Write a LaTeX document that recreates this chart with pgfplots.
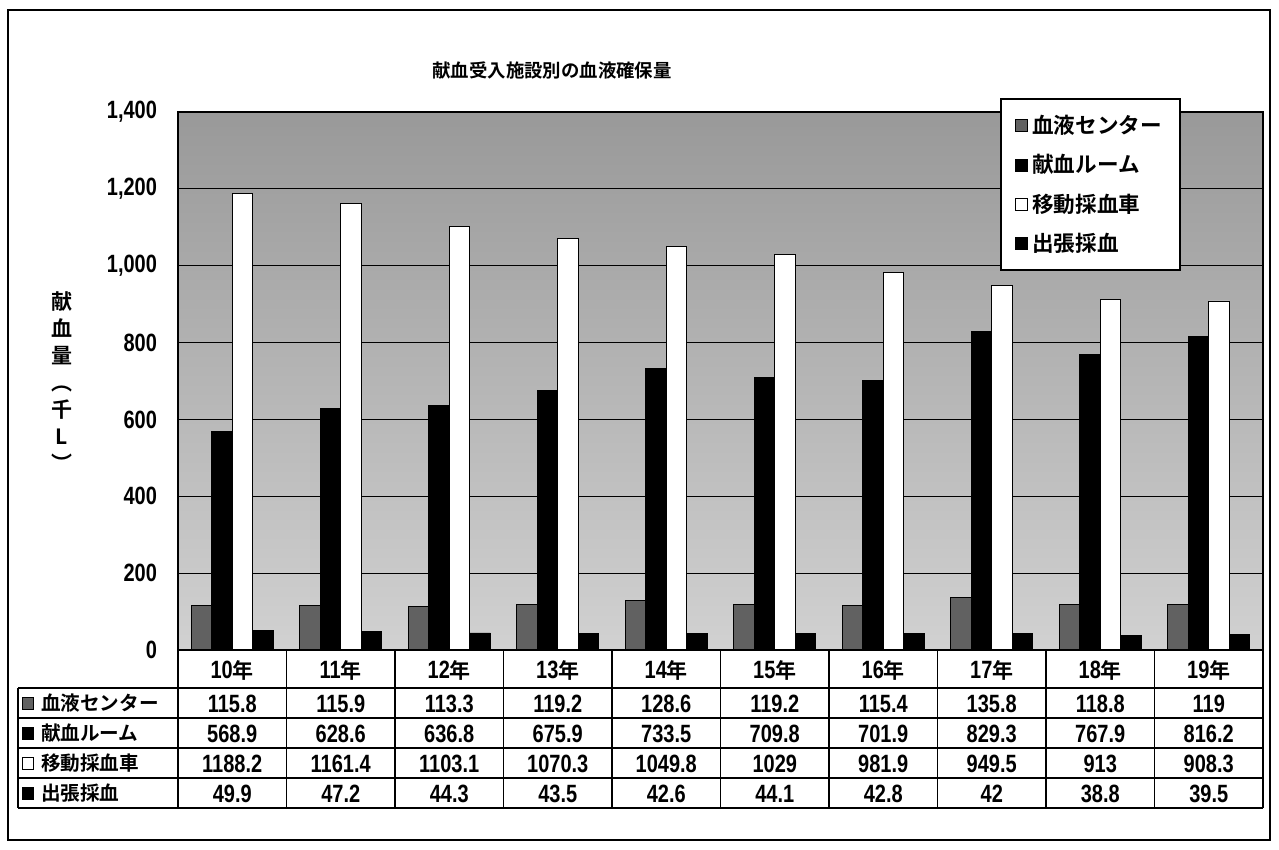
\documentclass[border=0pt]{standalone}
\usepackage{pgfplots}
\pgfplotsset{compat=1.18}
\usepackage{pgfplotstable}
\usepackage{fontspec}
\newfontfamily\jp{Noto Sans CJK JP Bold}
\newfontfamily\numf{Liberation Sans Bold}[FakeStretch=0.8]

% 献血受入施設別の血液確保量 (千L)
\pgfplotstableread{
yr  c     r     m      s
10  115.8 568.9 1188.2 49.9
11  115.9 628.6 1161.4 47.2
12  113.3 636.8 1103.1 44.3
13  119.2 675.9 1070.3 43.5
14  128.6 733.5 1049.8 42.6
15  119.2 709.8 1029   44.1
16  115.4 701.9 981.9  42.8
17  135.8 829.3 949.5  42
18  118.8 767.9 913    38.8
19  119   816.2 908.3  39.5
}\datatable

\tikzset{px/.style={x=0.5pt,y=-0.5pt,shift={(0pt,425pt)}}}
\pgfplotsset{sq legend/.style={legend image code/.code={\draw[##1] (0pt,-3pt) rectangle (6pt,3pt);}}}

\begin{document}
\begin{tikzpicture}
\begin{scope}[px]
  \useasboundingbox (0,0) rectangle (1279,850);
  \fill[white] (0,0) rectangle (1279,850);
  \draw[line width=1.2pt] (8,10) rectangle (1270,840);
\end{scope}

\begin{axis}[
    at={(89pt,100pt)}, anchor=south west,
    width=542.5pt, height=269pt, scale only axis,
    xmin=-0.5, xmax=9.5,
    ymin=0, ymax=1400,
    ytick={0,200,...,1400},
    xtick=\empty,
    ymajorgrids,
    grid style={black, line width=0.6pt},
    major tick length=0pt,
    yticklabel style={font=\numf\fontsize{12.5}{12.5}\selectfont, xshift=-7pt},
    /pgf/number format/.cd, 1000 sep={,}, assume math mode=true, /pgfplots/.cd,
    axis background/.style={top color=black!40, bottom color=black!18},
    axis line style={black, line width=1pt},
    ybar=0pt, bar width=10.25pt,
    legend cell align=left,
    legend style={at={(0.758,1.026)}, anchor=north west, draw=black,
        line width=1pt, fill=white,
        font=\jp\fontsize{10.8}{12.5}\selectfont,
        row sep=5pt, inner xsep=7pt, inner ysep=6pt},
  ]
  \addplot[fill=black!62, draw=black, line width=0.4pt, sq legend]
    table[x expr=\coordindex, y=c] {\datatable};
  \addplot[fill=black, draw=black, line width=0.4pt, sq legend]
    table[x expr=\coordindex, y=r] {\datatable};
  \addplot[fill=white, draw=black, line width=0.4pt, sq legend]
    table[x expr=\coordindex, y=m] {\datatable};
  \addplot[fill=black, draw=black, line width=0.4pt, sq legend]
    table[x expr=\coordindex, y=s] {\datatable};
  \legend{血液センター,献血ルーム,移動採血車,出張採血}
\end{axis}

\begin{scope}[px]
  % title and y label
  \node at (552,70) {\jp\fontsize{9.2}{10}\selectfont 献血受入施設別の血液確保量};
  \node[font=\jp\fontsize{10.5}{13.5}\selectfont, align=center] at (62,382)
    {献\\血\\量\\︵\\千\\L\\︶};

  % data table grid
  \draw[line width=0.8pt] (178,650) -- (1263,650);
  \foreach \yy in {688,718,748,778,808}
    \draw[line width=0.8pt] (18,\yy) -- (1263,\yy);
  \draw[line width=0.8pt] (18,688) -- (18,808);
  \foreach \k in {0,...,10}
    \draw[line width=0.8pt] ({178+108.5*\k},650) -- ({178+108.5*\k},808);

  % header row
  \foreach \k in {0,...,9} {
    \pgfplotstablegetelem{\k}{yr}\of\datatable
    \node at ({178+108.5*(\k+0.5)},670)
      {{\numf\fontsize{12.5}{12}\selectfont\pgfplotsretval}{\jp\fontsize{10.5}{12}\selectfont 年}};
  }

  % values
  \foreach \col/\yy in {c/704,r/734,m/764,s/794} {
    \foreach \k in {0,...,9} {
      \pgfplotstablegetelem{\k}{\col}\of\datatable
      \node at ({178+108.5*(\k+0.5)},\yy)
        {\numf\fontsize{12.5}{12}\selectfont\pgfplotsretval};
    }
  }

  % row labels
  \draw[fill=black!62] (22,697) rectangle (33,709);
  \draw[fill=black] (22,727) rectangle (33,739);
  \draw[fill=white] (22,757) rectangle (33,769);
  \draw[fill=black] (22,787) rectangle (33,799);
  \begin{scope}[every node/.style={anchor=west, font=\jp\fontsize{9.8}{11}\selectfont}]
    \node at (34,703) {血液センター};
    \node at (34,733) {献血ルーム};
    \node at (34,763) {移動採血車};
    \node at (34,793) {出張採血};
  \end{scope}
\end{scope}
\end{tikzpicture}
\end{document}
